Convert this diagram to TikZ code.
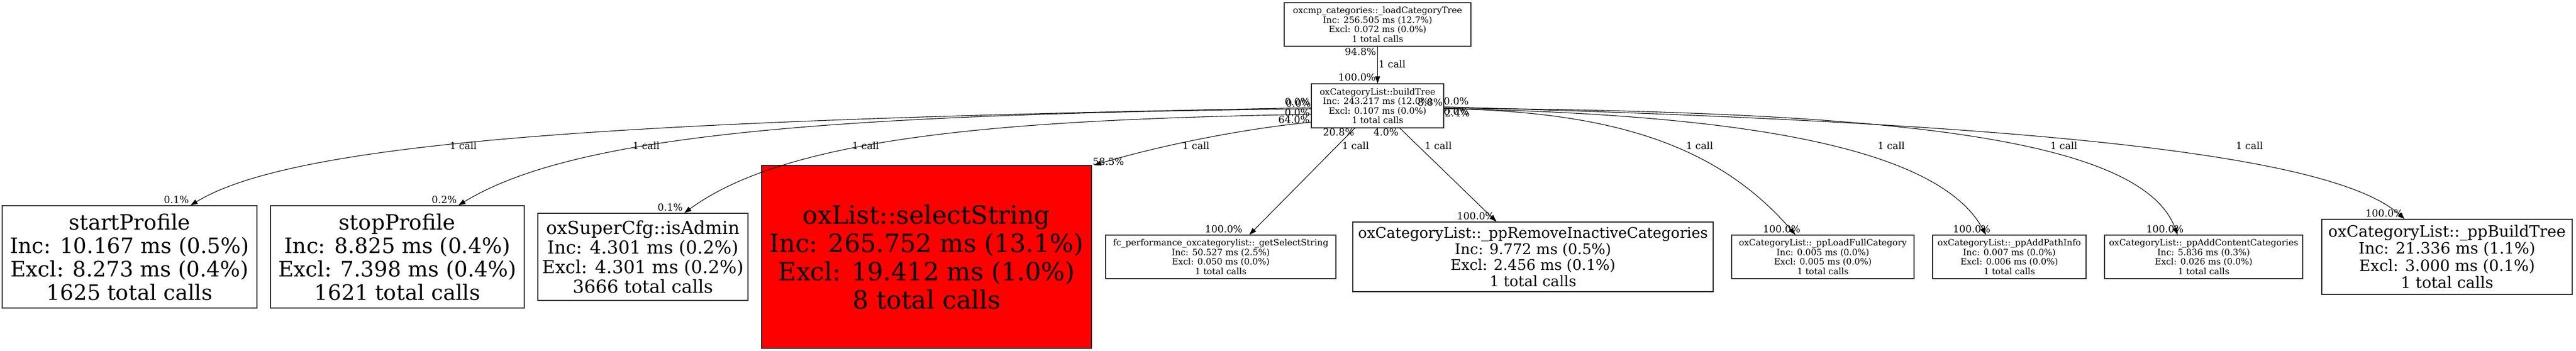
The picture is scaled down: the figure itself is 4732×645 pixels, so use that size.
\documentclass[tikz,border=0pt]{standalone}
\usepackage{fontspec}
\setmainfont{DejaVu Serif}
\usetikzlibrary{arrows.meta,calc}
\newcommand{\fsz}[2]{\fontsize{#1bp}{#2bp}\selectfont}
\tikzset{
  fn/.style={draw=black!85, line width=1.2bp, align=center, inner sep=0pt},
  lab/.style={inner sep=0pt, font=\fsz{18}{20}},
  call/.style={-{Triangle[length=13bp,width=9bp]}, line width=1.1bp},
}
\begin{document}
\begin{tikzpicture}[x=1bp,y=-1bp]
\useasboundingbox (0,0) rectangle (4732,645);
% nodes
\node[fn, minimum width=343bp, minimum height=80bp, font=\fsz{16}{17.4}] (top) at (2530.5,45)
  {oxcmp\_categories::\_loadCategoryTree\\Inc: 256.505 ms (12.7\%)\\Excl: 0.072 ms (0.0\%)\\1 total calls};
\node[fn, minimum width=243bp, minimum height=81bp, font=\fsz{16}{17.4}] (build) at (2530.5,194.5)
  {oxCategoryList::buildTree\\Inc: 243.217 ms (12.0\%)\\Excl: 0.107 ms (0.0\%)\\1 total calls};
\node[fn, minimum width=468bp, minimum height=188bp, font=\fsz{39}{43}] (start) at (238,472)
  {startProfile\\Inc: 10.167 ms (0.5\%)\\Excl: 8.273 ms (0.4\%)\\1625 total calls};
\node[fn, minimum width=466bp, minimum height=188bp, font=\fsz{39}{43}] (stop) at (730,472)
  {stopProfile\\Inc: 8.825 ms (0.4\%)\\Excl: 7.398 ms (0.4\%)\\1621 total calls};
\node[fn, minimum width=386bp, minimum height=160bp, font=\fsz{33}{36}] (admin) at (1181,472)
  {oxSuperCfg::isAdmin\\Inc: 4.301 ms (0.2\%)\\Excl: 4.301 ms (0.2\%)\\3666 total calls};
\node[fn, fill=red, minimum width=606bp, minimum height=336bp, font=\fsz{46}{52}] (select) at (1702,472)
  {oxList::selectString\\Inc: 265.752 ms (13.1\%)\\Excl: 19.412 ms (1.0\%)\\8 total calls};
\node[fn, minimum width=423bp, minimum height=80bp, font=\fsz{16}{17.4}] (fc) at (2242.5,472)
  {fc\_performance\_oxcategorylist::\_getSelectString\\Inc: 50.527 ms (2.5\%)\\Excl: 0.050 ms (0.0\%)\\1 total calls};
\node[fn, minimum width=662bp, minimum height=128bp, font=\fsz{27}{29.5}] (remove) at (2816,472)
  {oxCategoryList::\_ppRemoveInactiveCategories\\Inc: 9.772 ms (0.5\%)\\Excl: 2.456 ms (0.1\%)\\1 total calls};
\node[fn, minimum width=335bp, minimum height=80bp, font=\fsz{16}{17.4}] (load) at (3348.5,472)
  {oxCategoryList::\_ppLoadFullCategory\\Inc: 0.005 ms (0.0\%)\\Excl: 0.005 ms (0.0\%)\\1 total calls};
\node[fn, minimum width=282bp, minimum height=80bp, font=\fsz{16}{17.4}] (path) at (3691,472)
  {oxCategoryList::\_ppAddPathInfo\\Inc: 0.007 ms (0.0\%)\\Excl: 0.006 ms (0.0\%)\\1 total calls};
\node[fn, minimum width=364bp, minimum height=80bp, font=\fsz{16}{17.4}] (content) at (4048,472)
  {oxCategoryList::\_ppAddContentCategories\\Inc: 5.836 ms (0.3\%)\\Excl: 0.026 ms (0.0\%)\\1 total calls};
\node[fn, minimum width=460bp, minimum height=138bp, font=\fsz{28.8}{31.5}] (bt) at (4495,472)
  {oxCategoryList::\_ppBuildTree\\Inc: 21.336 ms (1.1\%)\\Excl: 3.000 ms (0.1\%)\\1 total calls};
% edges
\draw[call] (top.south) -- (build.north);
\draw[call] ($(build.west)+(0,3.5)$) .. controls (1200,220) and (550,255) .. ($(start.north)+(112,0)$);
\draw[call] ($(build.west)+(0,5.5)$) .. controls (1500,210) and (1050,250) .. ($(stop.north)+(112,0)$);
\draw[call] ($(build.west)+(0,15.5)$) .. controls (1850,220) and (1450,250) .. ($(admin.north)+(76,0)$);
\draw[call] ($(build.west)+(0,30)$) .. controls (2300,235) and (2150,262) .. ($(select.north east)+(4,0)$);
\draw[call] ($(build.south)+(-42,0)$) -- ($(fc.north)+(52.5,0)$);
\draw[call] ($(build.south)+(41,0)$) -- ($(remove.north)+(-67,0)$);
\draw[call] ($(build.east)+(0,5)$) .. controls (2950,205) and (3150,260) .. ($(load.north)+(-50.5,0)$);
\draw[call] ($(build.east)+(0,5)$) .. controls (3200,210) and (3560,270) .. ($(path.north)+(-43,0)$);
\draw[call] ($(build.east)+(0,4)$) .. controls (3400,205) and (3930,240) .. ($(content.north)+(-48,0)$);
\draw[call] ($(build.east)+(0,2)$) .. controls (3700,225) and (4280,280) .. ($(bt.north)+(-78,0)$);
% labels
\node[lab] (t1) at (2499,95) {94.8\%};
\node[lab] (t2) at (2557,118) {1 call};
\node[lab] (t3) at (2493,142) {100.0\%};
\node[lab] (s1) at (851,268) {1 call};
\node[lab] (s2) at (324,367) {0.1\%};
\node[lab] (s3) at (2383,187) {0.0\%};
\node[lab] (p1) at (1187,268) {1 call};
\node[lab] (p2) at (816,367) {0.2\%};
\node[lab] (p3) at (2385,190) {0.0\%};
\node[lab] (a1) at (1590,268) {1 call};
\node[lab] (a2) at (1231,381) {0.1\%};
\node[lab] (a3) at (2383,207) {0.0\%};
\node[lab] (x1) at (2197,268) {1 call};
\node[lab] (x2) at (2036,297) {58.5\%};
\node[lab] (x3) at (2377,220) {64.0\%};
\node[lab] (f1) at (2490,268) {1 call};
\node[lab] (f2) at (2248,421) {100.0\%};
\node[lab] (f3) at (2459,243) {20.8\%};
\node[lab] (r1) at (2642,268) {1 call};
\node[lab] (r2) at (2711,397) {100.0\%};
\node[lab] (r3) at (2546,243) {4.0\%};
\node[lab] (d1) at (3122,268) {1 call};
\node[lab] (d2) at (3273,421) {100.0\%};
\node[lab] (d3) at (2675,186) {0.0\%};
\node[lab] (h1) at (3474,268) {1 call};
\node[lab] (h2) at (3622,421) {100.0\%};
\node[lab] (h3) at (2675,205) {0.0\%};
\node[lab] (c1) at (3791,268) {1 call};
\node[lab] (c2) at (3977,421) {100.0\%};
\node[lab] (c3) at (2677,208) {2.4\%};
\node[lab] (b1) at (4132,268) {1 call};
\node[lab] (b2) at (4380,392) {100.0\%};
\node[lab] (b3) at (2627,188) {8.8\%};
\end{tikzpicture}
\end{document}
